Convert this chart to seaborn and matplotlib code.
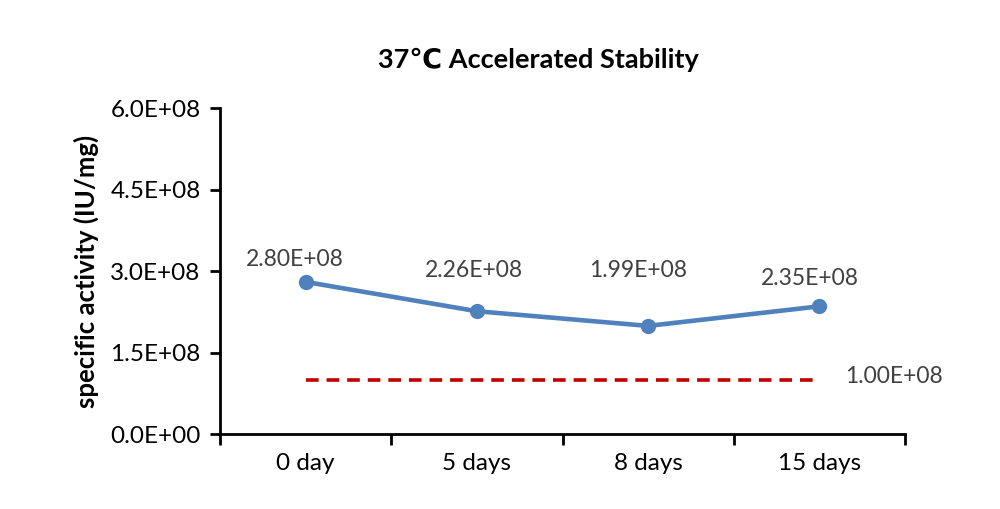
import matplotlib
matplotlib.use("Agg")
import matplotlib.pyplot as plt
import seaborn as sns
import pandas as pd
import numpy as np

categories = ["0 day", "5 days", "8 days", "15 days"]
activity = [2.80e8, 2.26e8, 1.99e8, 2.35e8]
label_texts = ["2.80E+08", "2.26E+08", "1.99E+08", "2.35E+08"]
threshold = 1.00e8
threshold_label = "1.00E+08"
y_ticks = [0, 1.5e8, 3.0e8, 4.5e8, 6.0e8]
y_tick_labels = ["0.0E+00", "1.5E+08", "3.0E+08", "4.5E+08", "6.0E+08"]
title = "37\u2103 Accelerated Stability"
y_title = "specific activity (IU/mg)"

sns.set_theme(style="white")
plt.rcParams["font.family"] = ["Lato", "DejaVu Sans"]

fig = plt.figure(figsize=(10, 5.09), dpi=100)
ax = fig.add_axes([0.22, 0.1473, 0.685, 0.6405])

df = pd.DataFrame({"cat": categories, "x": np.arange(len(categories)), "val": activity})
sns.lineplot(data=df, x="x", y="val", ax=ax, color="#4F81BD", linewidth=3.3,
             marker="o", markersize=11, markeredgewidth=0, sort=False)
thr = pd.DataFrame({"x": [0, len(categories) - 1], "val": [threshold, threshold]})
sns.lineplot(data=thr, x="x", y="val", ax=ax, color="#C00000", linewidth=2.6,
             linestyle=(0, (3.5, 2.2)))

offsets = [(-11, 22), (-3, 41), (-10, 55), (-10, 28)]
for i, (v, t) in enumerate(zip(activity, label_texts)):
    ax.annotate(t, (i, v), xytext=offsets[i], textcoords="offset pixels",
                ha="center", va="center", fontsize=16.5, color="#404040")
ax.annotate(threshold_label, (len(categories) - 1, threshold), xytext=(75, 3),
            textcoords="offset pixels", ha="center", va="center",
            fontsize=16.5, color="#404040")

ax.set_xlim(-0.5, len(categories) - 0.5)
ax.set_ylim(0, 6.0e8)
ax.set_yticks(y_ticks)
ax.set_yticklabels(y_tick_labels, fontsize=17.5, color="#000000")
ax.set_xticks(np.arange(-0.5, len(categories), 1.0))
ax.set_xticklabels([])
ax.set_xticks(np.arange(len(categories)), minor=True)
ax.set_xticklabels(categories, minor=True, fontsize=17.5, color="#000000")
ax.tick_params(axis="x", which="major", direction="out", length=8, width=2, color="black", bottom=True)
ax.tick_params(axis="x", which="minor", length=0, pad=14)
ax.tick_params(axis="y", direction="out", length=7, width=2, color="black", left=True, pad=7)

for s in ["top", "right"]:
    ax.spines[s].set_visible(False)
for s in ["left", "bottom"]:
    ax.spines[s].set_color("black")
    ax.spines[s].set_linewidth(2)

ax.set_xlabel("")
ax.set_ylabel(y_title, fontsize=18.5, fontweight="bold", color="black")
ax.yaxis.set_label_coords(-0.176, 0.5)
ax.grid(False)

fig.text(0.538, 0.882, title, ha="center", va="center", fontsize=19.5, fontweight="bold", color="black")

fig.savefig("out.png", dpi=100, facecolor="white")
